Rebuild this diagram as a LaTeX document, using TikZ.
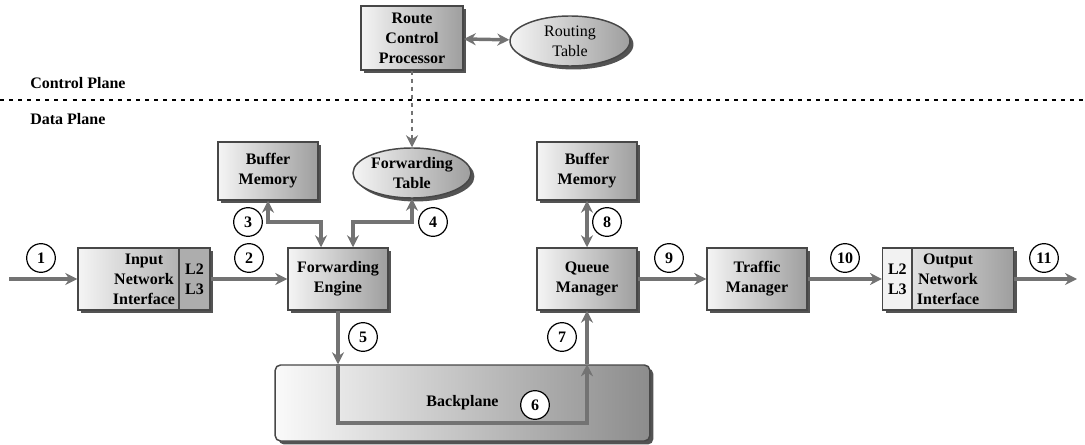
\documentclass[tikz,border=0pt]{standalone}
\usepackage{fontspec}
\setmainfont{Liberation Serif}
\usetikzlibrary{arrows.meta,shapes.geometric,shadows}

\tikzset{
  unit/.style={draw=black!72, line width=1.1pt, left color=black!4, right color=black!38,
    drop shadow={shadow xshift=2.6pt, shadow yshift=-2.6pt, fill=black!75, opacity=0.9}},
  block/.style={unit, rectangle, minimum width=75pt, minimum height=46.5pt, align=center, inner sep=1pt},
  lookup/.style={unit, ellipse, minimum width=88.5pt, minimum height=37.5pt, align=center, inner sep=0pt},
  layer/.style={draw=black!72, line width=1.1pt, rectangle, minimum height=46.5pt, align=center, inner sep=1pt},
  num/.style={draw=black, line width=0.9pt, fill=white, circle, minimum size=21.5pt, inner sep=0pt},
  flow/.style={draw=black!55, line width=2.6pt},
  plane/.style={anchor=west, inner sep=0pt},
}

\begin{document}
\begin{tikzpicture}[x=0.75pt, y=-0.75pt, >={Stealth[length=9pt,width=9pt]}, font=\bfseries\fontsize{12}{15}\selectfont]
    \useasboundingbox (0,0) rectangle (1085,445);

    % control plane
    \node (rcp) [block, minimum width=76.5pt, minimum height=48pt] at (412,38) {Route\\Control\\Processor};
    \node (rtab) [lookup, minimum width=90pt, minimum height=37.5pt, font=\mdseries\fontsize{12}{15}\selectfont] at (570,41) {Routing\\Table};
    \node (cplane) [plane] at (30,83) {Control Plane};
    \node (dplane) [plane] at (30,119) {Data Plane};
    \coordinate (lnw) at (0,100);
    \coordinate (lne) at (1085,100);
    \draw[line width=2pt, dash pattern=on 3pt off 3.8pt] (lnw) -- (lne);

    % data plane
    \node (bufl) [block, minimum height=43.5pt] at (268,171) {Buffer\\Memory};
    \node (ftab) [lookup] at (412,173) {Forwarding\\Table};
    \node (bufr) [block, minimum height=43.5pt] at (587,171) {Buffer\\Memory};

    \node (innet) [block, minimum width=99pt] at (144,279) {Input\\Network\\Interface};
    \node (inlay) [layer, anchor=east, minimum width=23.25pt, fill=black!32] at (innet.east) {L2\\L3};
    \node (fe) [block] at (338,279) {Forwarding\\Engine};
    \node (qm) [block] at (587,279) {Queue\\Manager};
    \node (tm) [block] at (757,279) {Traffic\\Manager};
    \node (outnet) [block, minimum width=98pt] at (948,279) {Output\\Network\\Interface};
    \node (outlay) [layer, anchor=west, minimum width=22pt, fill=black!5] at (outnet.west) {L2\\L3};

    \node (bp) [unit, rectangle, rounded corners=4pt, minimum width=281pt, minimum height=57pt, left color=black!2, right color=black!45] at (462.5,403) {Backplane};

    % numbers
    \node (n1) [num] at (41,258) {1};
    \node (n2) [num] at (249,258) {2};
    \node (n3) [num] at (248,222) {3};
    \node (n4) [num] at (433,222) {4};
    \node (n5) [num] at (363,337) {5};
    \node (n6) [num] at (535,405) {6};
    \node (n7) [num] at (562,337) {7};
    \node (n8) [num] at (607,222) {8};
    \node (n9) [num] at (669,258) {9};
    \node (n10) [num] at (845,258) {10};
    \node (n11) [num] at (1044,258) {11};

    % connectors
    \coordinate (src) at (9,279);
    \coordinate (snk) at (1077,279);
    \coordinate (j3) at (321,222);
    \coordinate (j4) at (353,222);
    \coordinate (bl) at (338,423);
    \coordinate (br) at (587,423);

    \draw[flow, <->] (rcp) -- (rtab);
    \draw[flow, ->, line width=1.8pt, dash pattern=on 3pt off 3pt] (rcp) -- (ftab);
    \draw[flow, ->] (src) -- (innet);
    \draw[flow, ->] (innet) -- (fe);
    \draw[flow, <->] (bufl) |- (j3) -- (j3 |- fe.north);
    \draw[flow, <->] (ftab) |- (j4) -- (j4 |- fe.north);
    \draw[flow, ->] (fe) -- (fe |- bp.north);
    \draw[flow, ->] (fe |- bp.north) -- (bl) -- (br) -- (br |- bp.north);
    \draw[flow, ->] (br |- bp.north) -- (qm);
    \draw[flow, <->] (bufr) -- (qm);
    \draw[flow, ->] (qm) -- (tm);
    \draw[flow, ->] (tm) -- (outnet);
    \draw[flow, ->] (outnet) -- (snk);
\end{tikzpicture}
\end{document}
